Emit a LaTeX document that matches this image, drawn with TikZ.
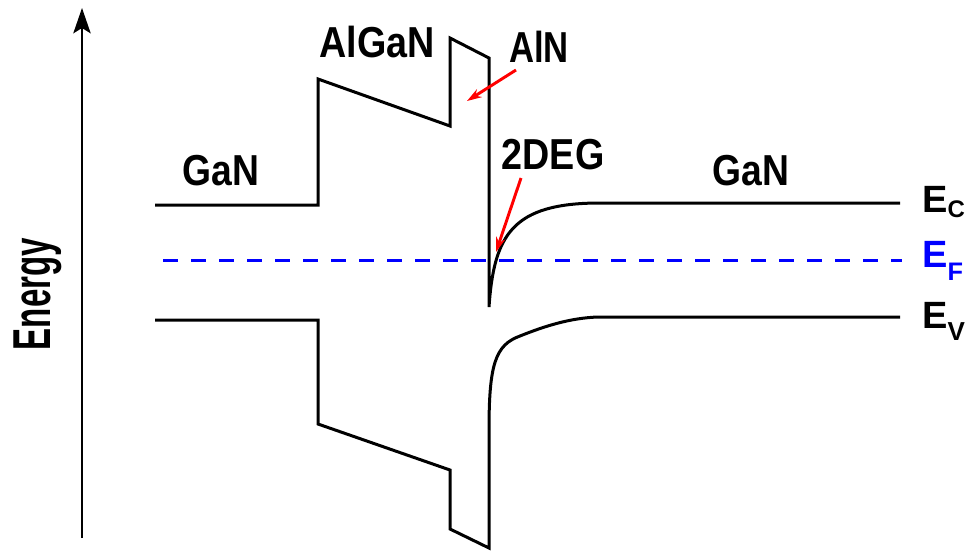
\documentclass[tikz,border=0pt]{standalone}
\usepackage{fontspec}
\setmainfont{Liberation Sans}
\usetikzlibrary{arrows.meta}
\definecolor{fermiblue}{RGB}{0,0,255}
\definecolor{arrred}{RGB}{255,0,0}
\newcommand\biglbl[2]{\fontsize{32.5pt}{36pt}\selectfont\bfseries\scalebox{#1}[1]{#2}}
\begin{document}
\begin{tikzpicture}[x=0.75pt,y=-0.75pt,
  band/.style={line width=2.25pt, black, line join=miter},
  fermi/.style={line width=2.25pt, fermiblue, dash pattern=on 11.25pt off 9.75pt},
  axisline/.style={line width=1.6pt, -{Stealth[length=19pt,width=13pt,inset=4pt]}},
  redarrow/.style={line width=2.2pt, arrred, -{Stealth[length=11pt,width=7pt]}},
  lbl/.style={inner sep=0pt, anchor=base},
  elbl/.style={inner sep=0pt, anchor=base west, font=\fontsize{28.5pt}{32pt}\selectfont\bfseries}]
\useasboundingbox (0,0) rectangle (966,550);
% energy axis
\coordinate (ax0) at (82,538);
\coordinate (ax1) at (82,8);
\draw[axisline] (ax0) -- (ax1);
\node[lbl, rotate=90] (energy) at (50,294) {\fontsize{40pt}{42pt}\selectfont\bfseries\scalebox{0.62}[1]{Energy}};
% conduction band
\coordinate (c0) at (155,205);
\coordinate (c1) at (318,205);
\coordinate (c2) at (318,79);
\coordinate (c3) at (450,126);
\coordinate (c4) at (450,38);
\coordinate (c5) at (489,58);
\coordinate (c6) at (489,307);
\coordinate (c7) at (600,203);
\coordinate (c8) at (900,203);
\draw[band] (c0) -- (c1) -- (c2) -- (c3) -- (c4) -- (c5) -- (c6)
  .. controls (494,235) and (512,203) .. (c7) -- (c8);
% valence band
\coordinate (v0) at (155,320);
\coordinate (v1) at (318,320);
\coordinate (v2) at (318,424);
\coordinate (v3) at (450,470);
\coordinate (v4) at (450,529);
\coordinate (v5) at (489,548);
\coordinate (v6) at (489,430);
\coordinate (v7) at (520,336);
\coordinate (v8) at (598,317);
\coordinate (v9) at (900,317);
\draw[band] (v0) -- (v1) -- (v2) -- (v3) -- (v4) -- (v5) -- (v6)
  .. controls (489,365) and (495,345) .. (v7)
  .. controls (545,326) and (570,318) .. (v8) -- (v9);
% Fermi level
\coordinate (f0) at (163,260);
\coordinate (f1) at (902,260);
\draw[fermi] (f0) -- (f1);
% labels
\node[lbl] (gan1) at (221,185) {\biglbl{0.86}{GaN}};
\node[lbl] (algan) at (377,57) {\biglbl{0.87}{AlGaN}};
\node[lbl] (aln) at (539,62) {\biglbl{0.8}{AlN}};
\node[lbl] (deg) at (553,169) {\biglbl{0.87}{2DEG}};
\node[lbl] (gan2) at (751,185) {\biglbl{0.86}{GaN}};
\node[elbl] (ec) at (922,212) {E\raisebox{-3.75pt}{\fontsize{18pt}{18pt}\selectfont C}};
\node[elbl, text=fermiblue] (ef) at (922,267) {E\raisebox{-9.75pt}{\fontsize{19pt}{19pt}\selectfont F}};
\node[elbl] (ev) at (922,328) {E\raisebox{-9pt}{\fontsize{19.5pt}{19.5pt}\selectfont V}};
% red arrows
\coordinate (alnarr) at (467,101);
\coordinate (degarr) at (496,252);
\draw[redarrow] (516,70) -- (alnarr);
\draw[redarrow] (521,178) -- (degarr);
\end{tikzpicture}
\end{document}
